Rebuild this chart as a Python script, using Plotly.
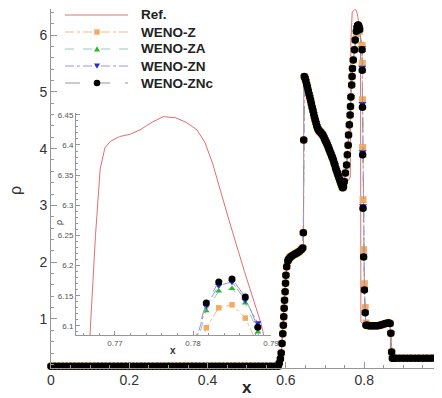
import plotly.graph_objects as go

# ---------------- data ----------------
# shared part of all WENO solutions: quiescent left state
x_left = [0.00, 0.01, 0.02, 0.03, 0.04, 0.05, 0.06, 0.07, 0.08, 0.09,
          0.10, 0.11, 0.12, 0.13, 0.14, 0.15, 0.16, 0.17, 0.18, 0.19,
          0.20, 0.21, 0.22, 0.23, 0.24, 0.25, 0.26, 0.27, 0.28, 0.29,
          0.30, 0.31, 0.32, 0.33, 0.34, 0.35, 0.36, 0.37, 0.38, 0.39,
          0.40, 0.41, 0.42, 0.43, 0.44, 0.45, 0.46, 0.47, 0.48, 0.49,
          0.50, 0.51, 0.52, 0.53, 0.54, 0.55, 0.56, 0.57, 0.58]
rho_left = [0.17, 0.17, 0.17, 0.17, 0.17, 0.17, 0.17, 0.17, 0.17, 0.17,
            0.17, 0.17, 0.17, 0.17, 0.17, 0.17, 0.17, 0.17, 0.17, 0.17,
            0.17, 0.17, 0.17, 0.17, 0.17, 0.17, 0.17, 0.17, 0.17, 0.17,
            0.17, 0.17, 0.17, 0.17, 0.17, 0.17, 0.17, 0.17, 0.17, 0.17,
            0.17, 0.17, 0.17, 0.17, 0.17, 0.17, 0.17, 0.17, 0.17, 0.17,
            0.17, 0.17, 0.17, 0.17, 0.17, 0.17, 0.17, 0.17, 0.17]

# shared part: jump near 0.59, plateau, contact near 0.645
x_rise = [0.583, 0.586, 0.588, 0.590, 0.592, 0.5935, 0.5945, 0.5955, 0.5965, 0.598,
          0.599, 0.600, 0.602, 0.605, 0.607, 0.610, 0.613, 0.617, 0.622, 0.626,
          0.630, 0.634, 0.639, 0.643, 0.6445, 0.6455]
rho_rise = [0.22, 0.30, 0.40, 0.57, 0.74, 0.89, 1.04, 1.19, 1.33, 1.48,
            1.63, 1.77, 1.92, 2.02, 2.05, 2.08, 2.10, 2.12, 2.14, 2.155,
            2.17, 2.19, 2.22, 2.25, 2.52, 4.15]

# shared part: decreasing band between the contact and the dip near 0.745
x_band = [0.647, 0.649, 0.651, 0.653, 0.655, 0.657, 0.659, 0.661, 0.663, 0.665,
          0.667, 0.669, 0.671, 0.673, 0.675, 0.677, 0.679, 0.681, 0.683, 0.685,
          0.687, 0.689, 0.691, 0.693, 0.695, 0.697, 0.699, 0.701, 0.703, 0.705,
          0.707, 0.709, 0.711, 0.713, 0.715, 0.717, 0.719, 0.721, 0.723, 0.725,
          0.727, 0.729, 0.731, 0.733, 0.735, 0.737, 0.739, 0.741, 0.743, 0.745,
          0.747]
rho_band = [5.27, 5.24, 5.19, 5.13, 5.08, 5.02, 4.96, 4.91, 4.85, 4.79,
            4.73, 4.67, 4.61, 4.55, 4.50, 4.45, 4.40, 4.36, 4.33, 4.31,
            4.30, 4.28, 4.27, 4.25, 4.23, 4.20, 4.17, 4.14, 4.11, 4.08,
            4.05, 4.01, 3.98, 3.94, 3.91, 3.87, 3.84, 3.80, 3.75, 3.71,
            3.66, 3.62, 3.58, 3.54, 3.50, 3.46, 3.42, 3.38, 3.34, 3.31,
            3.33]

# shared part: steep rise towards the density peak
x_climb = [0.749, 0.752, 0.755, 0.757, 0.759, 0.760, 0.762, 0.764, 0.765, 0.766,
           0.768, 0.769, 0.770, 0.772, 0.775, 0.777]
rho_climb = [3.42, 3.57, 3.71, 3.89, 4.06, 4.24, 4.42, 4.59, 4.74, 4.91,
             5.12, 5.27, 5.41, 5.56, 5.74, 5.91]

# scheme-dependent part: density peak (also shown in the zoom) and the drop
x_peak = [0.7800, 0.7817, 0.7833, 0.7850, 0.7867, 0.7883]
rho_z_peak = [6.030, 6.097, 6.130, 6.135, 6.113, 6.070]
rho_za_peak = [6.050, 6.125, 6.158, 6.162, 6.138, 6.090]
rho_zn_peak = [6.060, 6.133, 6.167, 6.173, 6.143, 6.105]
rho_znc_peak = [6.065, 6.138, 6.173, 6.178, 6.148, 6.098]

x_drop = [0.7945, 0.7950, 0.7955, 0.7960, 0.7970, 0.7985, 0.8005, 0.8025, 0.8045]
rho_z_drop = [5.82, 5.50, 4.86, 4.02, 3.10, 2.22, 1.62, 1.20, 0.93]
rho_za_drop = [5.73, 5.37, 4.72, 3.88, 2.94, 2.08, 1.50, 1.10, 0.89]
rho_zn_drop = [5.77, 5.43, 4.79, 3.94, 2.99, 2.12, 1.53, 1.12, 0.89]
rho_znc_drop = [5.74, 5.38, 4.73, 3.89, 2.95, 2.09, 1.51, 1.11, 0.89]

# shared part: shelf and right state
x_right = [0.808, 0.812, 0.816, 0.820, 0.825, 0.830, 0.835, 0.840, 0.845, 0.850,
           0.855, 0.860, 0.863, 0.866, 0.868, 0.870, 0.872, 0.876, 0.880, 0.890,
           0.900, 0.910, 0.920, 0.930, 0.940, 0.950, 0.960, 0.970, 0.980, 0.990, 1.000]
rho_right = [0.89, 0.88, 0.88, 0.88, 0.88, 0.88, 0.88, 0.89, 0.90, 0.91,
             0.92, 0.93, 0.93, 0.92, 0.75, 0.42, 0.31, 0.31, 0.31, 0.31,
             0.31, 0.31, 0.31, 0.31, 0.31, 0.31, 0.31, 0.31, 0.31, 0.31, 0.31]

# reference solution
ref_x = [0.000, 0.580, 0.584, 0.588, 0.592, 0.596, 0.600, 0.604, 0.608, 0.615,
         0.625, 0.635, 0.6450, 0.6458, 0.649, 0.655, 0.660, 0.668, 0.676, 0.683,
         0.693, 0.703, 0.712, 0.720, 0.728, 0.736, 0.743, 0.750, 0.758, 0.7645,
         0.7660, 0.7668, 0.7675, 0.7681, 0.7687, 0.7694, 0.7706, 0.7720, 0.7732, 0.7748,
         0.7762, 0.7778, 0.7792, 0.7805, 0.7815, 0.7825, 0.7835, 0.7846, 0.7866, 0.7887,
         0.7895, 0.7905, 0.7915, 0.800, 0.815, 0.830, 0.845, 0.860, 0.8665, 0.8672,
         0.900, 1.000]
ref_rho = [0.17, 0.17, 0.22, 0.45, 0.85, 1.30, 1.75, 1.98, 2.06, 2.11,
           2.15, 2.19, 2.26, 5.30, 5.24, 5.08, 4.94, 4.70, 4.47, 4.33,
           4.25, 4.12, 3.97, 3.82, 3.64, 3.48, 3.34, 3.33, 3.42, 3.50,
           5.90, 6.085, 6.250, 6.360, 6.395, 6.406, 6.414, 6.418, 6.425, 6.438,
           6.447, 6.445, 6.437, 6.425, 6.405, 6.370, 6.325, 6.276, 6.190, 6.105,
           6.060, 5.900, 0.95, 0.90, 0.88, 0.88, 0.90, 0.92, 0.93, 0.31,
           0.31, 0.31]

x_ticks_main = [0, 0.2, 0.4, 0.6, 0.8]
x_tick_labels_main = ["0", "0.2", "0.4", "0.6", "0.8"]
legend_names = ["Ref.", "WENO-Z", "WENO-ZA", "WENO-ZN", "WENO-ZNc"]

# ---------------- styles ----------------
FONT = "Liberation Sans, Arial, sans-serif"
REF_COLOR = "rgb(225,110,115)"
AX_COLOR = "rgb(150,150,150)"
# marker colour, line colour, dash, symbol, main size, inset size
styles = {
    "WENO-Z": ("rgb(245,170,95)", "rgb(245,185,130)", "dashdot", "square", 7, 5.5),
    "WENO-ZA": ("rgb(40,185,40)", "rgb(150,200,190)", "dash", "triangle-up", 7, 6),
    "WENO-ZN": ("rgb(40,40,220)", "rgb(150,150,230)", "dashdot", "triangle-down", 7, 6.5),
    "WENO-ZNc": ("black", "rgb(150,150,150)", "longdash", "circle", 7.5, 7),
}
scheme_data = {
    "WENO-Z": (rho_z_peak, rho_z_drop),
    "WENO-ZA": (rho_za_peak, rho_za_drop),
    "WENO-ZN": (rho_zn_peak, rho_zn_drop),
    "WENO-ZNc": (rho_znc_peak, rho_znc_drop),
}

x_all = x_left + x_rise + x_band + x_climb + x_peak + x_drop + x_right

fig = go.Figure()

for axes, clip in ((("x", "y"), False), (("x2", "y2"), True)):
    fig.add_trace(go.Scatter(x=ref_x, y=ref_rho, mode="lines", name="Ref.", showlegend=False,
                             line=dict(color=REF_COLOR, width=1), cliponaxis=clip,
                             xaxis=axes[0], yaxis=axes[1]))
    for name in legend_names[1:]:
        mcol, lcol, dash, sym, msize, isize = styles[name]
        pk, dr = scheme_data[name]
        rho = rho_left + rho_rise + rho_band + rho_climb + pk + dr + rho_right
        fig.add_trace(go.Scatter(x=x_all, y=rho, mode="lines+markers", name=name, showlegend=False,
                                 line=dict(color=lcol, width=1, dash=dash),
                                 marker=dict(color=mcol, symbol=sym, line=dict(width=0),
                                             size=isize if clip else msize),
                                 cliponaxis=clip, xaxis=axes[0], yaxis=axes[1]))

# ---------------- hand-made legend (positions in page pixels) ----------------
def px(xp):   # page pixel -> paper x
    return (xp - 51) / 391.0


def py(yp):   # page pixel -> paper y
    return (368 - yp) / 359.0


shapes = []
annotations = []
row_y = [15, 32, 49, 66, 83]
mx = 97
for name, yr in zip(legend_names, row_y):
    if name == "Ref.":
        lcol, dash = REF_COLOR, "solid"
    else:
        mcol, lcol, dash, sym, _, _ = styles[name]
    shapes.append(dict(type="line", xref="paper", yref="paper", x0=px(65), x1=px(128),
                       y0=py(yr), y1=py(yr), line=dict(color=lcol, width=1, dash=dash)))
    if name != "Ref.":
        if sym == "square":
            shapes.append(dict(type="rect", xref="paper", yref="paper",
                               x0=px(mx - 2.7), x1=px(mx + 2.7), y0=py(yr + 2.7), y1=py(yr - 2.7),
                               fillcolor=mcol, line=dict(width=0)))
        elif sym == "circle":
            shapes.append(dict(type="circle", xref="paper", yref="paper",
                               x0=px(mx - 3.3), x1=px(mx + 3.3), y0=py(yr + 3.3), y1=py(yr - 3.3),
                               fillcolor=mcol, line=dict(width=0)))
        else:
            s = 1 if sym == "triangle-up" else -1
            path = "M {:.5f},{:.5f} L {:.5f},{:.5f} L {:.5f},{:.5f} Z".format(
                px(mx - 3), py(yr + 2.5 * s), px(mx + 3), py(yr + 2.5 * s), px(mx), py(yr - 2.8 * s))
            shapes.append(dict(type="path", xref="paper", yref="paper", path=path,
                               fillcolor=mcol, line=dict(width=0)))
    annotations.append(dict(text=name, x=px(139), y=py(yr), xref="paper", yref="paper",
                            xanchor="left", yanchor="middle", showarrow=False,
                            font=dict(family=FONT, size=13.5, color="#222", weight="bold")))

annotations += [
    dict(text="1", x=px(437), y=0, yref="paper", xref="paper", xanchor="center", yanchor="top",
         yshift=-3, showarrow=False, font=dict(size=14, color="#333")),
    dict(text="<b>x</b>", x=px(246.7), y=py(387), xref="paper", yref="paper",
         xanchor="center", yanchor="middle", showarrow=False, font=dict(size=17, color="#222")),
    dict(text="ρ", x=px(15), y=py(191), xref="paper", yref="paper", xanchor="center", yanchor="middle",
         textangle=-90, showarrow=False, font=dict(size=16, color="#333")),
    dict(text="<b>x</b>", x=px(173), y=py(350), xref="paper", yref="paper",
         xanchor="center", yanchor="middle", showarrow=False, font=dict(size=10, color="#333")),
    dict(text="ρ", x=px(59), y=py(223), xref="paper", yref="paper", xanchor="center", yanchor="middle",
         textangle=-90, showarrow=False, font=dict(size=9, color="#444")),
]

# The page body has an 8 px default margin, so the figure is 8 px smaller
# and its margins are shifted accordingly.
fig.update_layout(
    width=434, height=390,
    margin=dict(l=43, r=0, t=1, b=30, autoexpand=False),
    paper_bgcolor="white", plot_bgcolor="rgba(0,0,0,0)",
    font=dict(family=FONT, color="#333"),
    showlegend=False,
    shapes=shapes,
    annotations=annotations,
    xaxis=dict(range=[0, 0.9987], showgrid=False, zeroline=False, automargin=False,
               showline=True, linecolor=AX_COLOR, linewidth=1,
               ticks="inside", ticklen=6, tickcolor=AX_COLOR,
               tickvals=x_ticks_main, ticktext=x_tick_labels_main,
               tickfont=dict(size=14, color="#333"), ticklabelstandoff=-1,
               minor=dict(dtick=0.05, ticks="inside", ticklen=3, tickcolor=AX_COLOR)),
    yaxis=dict(range=[0.137, 6.458], showgrid=False, zeroline=False, automargin=False,
               showline=True, linecolor=AX_COLOR, linewidth=1,
               ticks="inside", ticklen=6, tickcolor=AX_COLOR,
               tick0=0, dtick=1, tickfont=dict(size=14, color="#333"),
               minor=dict(tick0=0, dtick=0.2, ticks="inside", ticklen=3, tickcolor=AX_COLOR)),
    xaxis2=dict(domain=[0.0639, 0.5627], anchor="y2", range=[0.765, 0.79], automargin=False,
                showgrid=False, zeroline=False, showline=True, linecolor=AX_COLOR,
                ticks="inside", ticklen=4, tickcolor=AX_COLOR, tick0=0.77, dtick=0.01,
                tickfont=dict(size=8, color="#555"),
                minor=dict(dtick=0.002, ticks="inside", ticklen=2, tickcolor=AX_COLOR)),
    yaxis2=dict(domain=[0.0919, 0.7103], anchor="x2", range=[6.085, 6.453], automargin=False,
                showgrid=False, zeroline=False, showline=True, linecolor=AX_COLOR,
                ticks="inside", ticklen=4, tickcolor=AX_COLOR, tick0=6.1, dtick=0.05,
                tickfont=dict(size=8, color="#555"),
                minor=dict(dtick=0.01, ticks="inside", ticklen=2, tickcolor=AX_COLOR)),
)

fig.write_html("out.html")
